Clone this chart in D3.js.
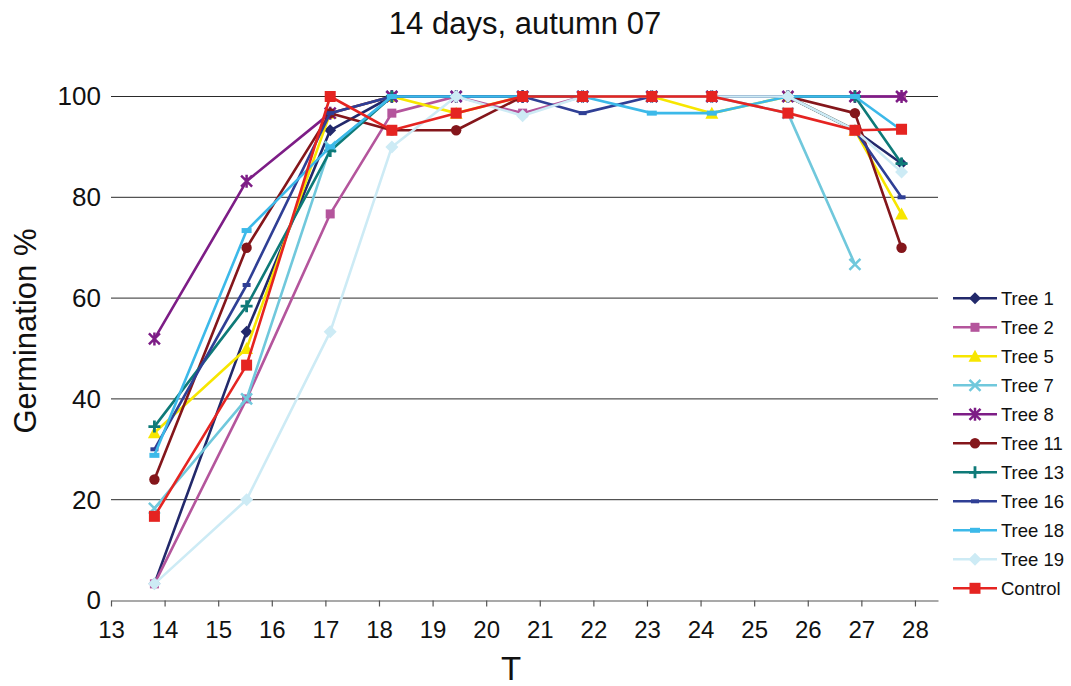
<!DOCTYPE html>
<html><head><meta charset="utf-8">
<script src="https://cdn.jsdelivr.net/npm/d3@7"></script>
<style>body{margin:0;background:#fff}svg{display:block;font-family:"Liberation Sans",Arial,sans-serif}</style>
</head><body><svg id="c" width="1071" height="686"></svg>
<script>
const temps = [13.81, 15.53, 17.09, 18.24, 19.44, 20.68, 21.80, 23.09, 24.21, 25.63, 26.88, 27.75];
const xTicks = [13,14,15,16,17,18,19,20,21,22,23,24,25,26,27,28];
const yTicks = [0,20,40,60,80,100];
const seriesNames = ["Tree 1","Tree 2","Tree 5","Tree 7","Tree 8","Tree 11","Tree 13","Tree 16","Tree 18","Tree 19","Control"];
const tree1  = [3.3, 53.3, 93.3, 100, 100, 100, 100, 100, 100, 100, 93.3, 86.7];
const tree2  = [3.3, 40, 76.7, 96.7, 100, 96.7, 100, 100, 100, 100, 100, 100];
const tree5  = [33.3, 50, 96.7, 100, 96.7, 100, 100, 100, 96.7, 100, 93.3, 76.7];
const tree7  = [18.3, 40, 90, 100, 100, 100, 100, 100, 100, 96.7, 66.7, null];
const tree8  = [51.9, 83.2, 96.7, 100, 100, 100, 100, 100, 100, 100, 100, 100];
const tree11 = [24, 70, 96.7, 93.3, 93.3, 100, 100, 100, 100, 100, 96.7, 70];
const tree13 = [34.5, 58.4, 89.2, 100, 100, 100, 100, 100, 100, 100, 100, 86.7];
const tree16 = [30, 62.6, 96.7, 100, 100, 100, 96.7, 100, 100, 100, 93.3, 80];
const tree18 = [28.8, 73.4, 90, 100, 100, 100, 100, 96.7, 96.7, 100, 100, 93.3];
const tree19 = [3.3, 20, 53.3, 90, 100, 96.2, 100, 100, 100, 100, 93.3, 85];
const control= [16.7, 46.7, 100, 93.3, 96.7, 100, 100, 100, 100, 96.7, 93.3, 93.5];
const allValues = [tree1,tree2,tree5,tree7,tree8,tree11,tree13,tree16,tree18,tree19,control];
const colors = ["#22296b","#b4559c","#f7e600","#70c8dc","#7d1d86","#84161b","#0e7a78","#2f3f95","#3cb9e9","#cdebf5","#e52421"];
const markers = ["diamond","square","triangle","x","asterisk","circle","plus","dash","dash2","diamond2","square2"];

const svg = d3.select("#c");
const x = d3.scaleLinear().domain([13, 28.43]).range([111, 938]);
const y = d3.scaleLinear().domain([0, 100]).range([600.5, 96.5]);

svg.append("g").selectAll("line").data(yTicks.filter(d=>d>0)).join("line")
  .attr("x1", 111).attr("x2", 938).attr("y1", d=>y(d)).attr("y2", d=>y(d))
  .attr("stroke", "#2a2a2a").attr("stroke-width", 1);

const ya = svg.append("g").attr("transform","translate(111,0)")
  .call(d3.axisLeft(y).tickValues(yTicks).tickSize(0).tickPadding(10).tickFormat(d3.format("d")));
ya.select(".domain").remove();
ya.selectAll("text").attr("font-size", 26).attr("font-family","Liberation Sans, Arial, sans-serif").attr("fill","#111");

const xa = svg.append("g").attr("transform","translate(0,600.5)")
  .call(d3.axisBottom(x).tickValues(xTicks).tickSize(6).tickSizeOuter(0).tickPadding(14).tickFormat(d3.format("d")));
xa.select(".domain").attr("stroke","#555").attr("stroke-width",1.2);
xa.selectAll(".tick line").attr("stroke","#555").attr("stroke-width",1.2);
xa.selectAll("text").attr("font-size", 24).attr("font-family","Liberation Sans, Arial, sans-serif").attr("fill","#111");

svg.append("text").attr("x", 525).attr("y", 34).attr("text-anchor","middle").attr("font-size", 31).attr("fill","#111").text("14 days, autumn 07");
svg.append("text").attr("x", 511).attr("y", 680).attr("text-anchor","middle").attr("font-size", 33).attr("fill","#111").text("T");
svg.append("text").attr("transform","translate(36,331) rotate(-90)").attr("text-anchor","middle").attr("font-size", 31).attr("fill","#111").text("Germination %");

function drawMarker(g, type, color) {
  switch(type) {
    case "diamond": g.append("path").attr("d","M0,-6L6,0L0,6L-6,0Z").attr("fill",color); break;
    case "diamond2": g.append("path").attr("d","M0,-6.5L6.5,0L0,6.5L-6.5,0Z").attr("fill",color); break;
    case "square": g.append("rect").attr("x",-4.5).attr("y",-4.5).attr("width",9).attr("height",9).attr("fill",color); break;
    case "square2": g.append("rect").attr("x",-5.5).attr("y",-5.5).attr("width",11).attr("height",11).attr("fill",color); break;
    case "triangle": g.append("path").attr("d","M0,-6.5L6.5,5.5L-6.5,5.5Z").attr("fill",color); break;
    case "circle": g.append("circle").attr("r",5.2).attr("fill",color); break;
    case "x": g.append("path").attr("d","M-5.5,-5.5L5.5,5.5M-5.5,5.5L5.5,-5.5").attr("stroke",color).attr("stroke-width",2.5).attr("fill","none"); break;
    case "asterisk": g.append("path").attr("d","M-5.5,-5.5L5.5,5.5M-5.5,5.5L5.5,-5.5M0,-6.5L0,6.5").attr("stroke",color).attr("stroke-width",2.5).attr("fill","none"); break;
    case "plus": g.append("path").attr("d","M-6,0L6,0M0,-6L0,6").attr("stroke",color).attr("stroke-width",2.8).attr("fill","none"); break;
    case "dash": g.append("rect").attr("x",-4).attr("y",-2).attr("width",8).attr("height",4).attr("fill",color); break;
    case "dash2": g.append("rect").attr("x",-5).attr("y",-2.5).attr("width",10).attr("height",5).attr("fill",color); break;
  }
}

const line = d3.line().defined(d=>d.v!==null).x(d=>x(d.t)).y(d=>y(d.v));
seriesNames.forEach((name,i)=>{
  const pts = temps.map((t,j)=>({t, v: allValues[i][j]}));
  const g = svg.append("g");
  g.append("path").datum(pts).attr("d", line).attr("fill","none").attr("stroke", colors[i]).attr("stroke-width", 2.6).attr("stroke-linejoin","round");
  pts.filter(p=>p.v!==null).forEach(p=>{
    drawMarker(g.append("g").attr("transform",`translate(${x(p.t)},${y(p.v)})`), markers[i], colors[i]);
  });
});

const leg = svg.append("g");
seriesNames.forEach((name,i)=>{
  const yy = 298.3 + i*29;
  const g = leg.append("g").attr("transform",`translate(0,${yy})`);
  g.append("line").attr("x1",953).attr("x2",997).attr("y1",0).attr("y2",0).attr("stroke",colors[i]).attr("stroke-width",2.6);
  drawMarker(g.append("g").attr("transform","translate(975,0)"), markers[i], colors[i]);
  g.append("text").attr("x",1001).attr("y",6.5).attr("font-size",18.5).attr("fill","#111").text(name);
});
</script></body></html>
